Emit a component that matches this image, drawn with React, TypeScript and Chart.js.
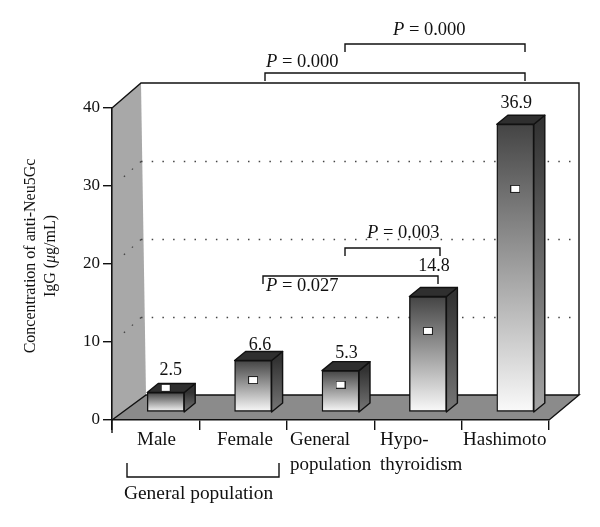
import React, { useEffect, useRef } from "react";
import { Chart, registerables } from "chart.js";

Chart.register(...registerables);

const categories = ["Male", "Female", "General population", "Hypothyroidism", "Hashimoto"];
const means = [2.5, 6.6, 5.3, 14.8, 36.9];
const markers = [3.1, 4.1, 3.5, 10.4, 28.6];
const yTicks = [0, 10, 20, 30, 40];
const valueLabels = ["2.5", "6.6", "5.3", "14.8", "36.9"];

const SERIF = '"Liberation Serif", serif';
const FRONT_DX = 10;
const FRONT_DY = -8;
const BAR_DEPTH_X = 11;
const BAR_DEPTH_Y = -9;
const WALL_DX = 29;
const WALL_DY = -25;

type Run = { t: string; i?: boolean };

function runs(ctx: CanvasRenderingContext2D, x: number, y: number, parts: Run[], size: number, center = false) {
  ctx.textBaseline = "middle";
  ctx.textAlign = "left";
  ctx.fillStyle = "#111";
  const fontOf = (p: Run) => `${p.i ? "italic " : ""}${size}px ${SERIF}`;
  let total = 0;
  for (const p of parts) {
    ctx.font = fontOf(p);
    total += ctx.measureText(p.t).width;
  }
  let cx = center ? x - total / 2 : x;
  for (const p of parts) {
    ctx.font = fontOf(p);
    ctx.fillText(p.t, cx, y);
    cx += ctx.measureText(p.t).width;
  }
}

function bracket(ctx: CanvasRenderingContext2D, x1: number, x2: number, yTop: number, yLow: number, lw = 1.4) {
  ctx.save();
  ctx.strokeStyle = "#111";
  ctx.lineWidth = lw;
  ctx.beginPath();
  ctx.moveTo(x1, yLow);
  ctx.lineTo(x1, yTop);
  ctx.lineTo(x2, yTop);
  ctx.lineTo(x2, yLow);
  ctx.stroke();
  ctx.restore();
}

const stage3d = {
  id: "stage3d",
  beforeDraw(chart: any) {
    const { ctx, scales } = chart;
    const xs = scales.x;
    const ys = scales.y;
    const L = xs.left;
    const R = xs.right;
    const Y0 = ys.getPixelForValue(0);
    const YT = ys.getPixelForValue(40);
    ctx.save();
    ctx.fillStyle = "#fff";
    ctx.fillRect(0, 0, chart.width, chart.height);
    // left wall
    ctx.fillStyle = "#a8a8a8";
    ctx.beginPath();
    ctx.moveTo(L, YT);
    ctx.lineTo(L + WALL_DX, YT + WALL_DY);
    ctx.lineTo(L + WALL_DX + 5, Y0 + WALL_DY);
    ctx.lineTo(L, Y0);
    ctx.closePath();
    ctx.fill();
    // floor
    ctx.fillStyle = "#8b8b8b";
    ctx.beginPath();
    ctx.moveTo(L, Y0);
    ctx.lineTo(L + WALL_DX + 5, Y0 + WALL_DY);
    ctx.lineTo(R + 30, Y0 + WALL_DY);
    ctx.lineTo(R, Y0);
    ctx.closePath();
    ctx.fill();
    ctx.strokeStyle = "#111";
    ctx.lineWidth = 1.4;
    ctx.beginPath();
    ctx.moveTo(L, Y0);
    ctx.lineTo(L + WALL_DX + 5, Y0 + WALL_DY);
    ctx.lineTo(R + 30, Y0 + WALL_DY);
    ctx.lineTo(R, Y0);
    ctx.moveTo(L, YT);
    ctx.lineTo(L + WALL_DX, YT + WALL_DY);
    ctx.lineTo(R + 30, YT + WALL_DY);
    ctx.lineTo(R + 30, Y0 + WALL_DY);
    ctx.stroke();
    // dotted gridlines
    ctx.strokeStyle = "#444";
    ctx.lineWidth = 1.3;
    ctx.setLineDash([1.5, 9.2]);
    for (const v of yTicks.slice(1, 4)) {
      const y = ys.getPixelForValue(v);
      ctx.beginPath();
      ctx.moveTo(L + WALL_DX, y + WALL_DY + 0.5);
      ctx.lineTo(R + 22, y + WALL_DY + 0.5);
      ctx.stroke();
      ctx.beginPath();
      ctx.moveTo(L + WALL_DX, y + WALL_DY + 0.5);
      ctx.lineTo(L + 6, y + WALL_DY + 21);
      ctx.stroke();
    }
    ctx.restore();
  },
  beforeDatasetDraw(chart: any, args: any) {
    const { ctx, scales } = chart;
    ctx.save();
    ctx.translate(FRONT_DX, FRONT_DY);
    if (args.meta.type === "bar") {
      const base = scales.y.getPixelForValue(0);
      args.meta.data.forEach((bar: any) => {
        const x2 = bar.x + bar.width / 2;
        const x1 = bar.x - bar.width / 2;
        const top = bar.y;
        const dx = BAR_DEPTH_X;
        const dy = BAR_DEPTH_Y;
        const g = ctx.createLinearGradient(0, top, 0, base);
        g.addColorStop(0, "#333");
        g.addColorStop(1, base - top > 200 ? "#a4a4a4" : "#777");
        ctx.fillStyle = g;
        ctx.strokeStyle = "#111";
        ctx.lineWidth = 1.4;
        ctx.lineJoin = "round";
        ctx.beginPath();
        ctx.moveTo(x2, top);
        ctx.lineTo(x2 + dx, top + dy);
        ctx.lineTo(x2 + dx, base + dy);
        ctx.lineTo(x2, base);
        ctx.closePath();
        ctx.fill();
        ctx.stroke();
        ctx.fillStyle = "#2f2f2f";
        ctx.beginPath();
        ctx.moveTo(x1, top);
        ctx.lineTo(x1 + dx, top + dy);
        ctx.lineTo(x2 + dx, top + dy);
        ctx.lineTo(x2, top);
        ctx.closePath();
        ctx.fill();
        ctx.stroke();
      });
    }
  },
  afterDatasetDraw(chart: any) {
    chart.ctx.restore();
  },
  afterDraw(chart: any) {
    const { ctx, scales } = chart;
    const xs = scales.x;
    const ys = scales.y;
    const meta = chart.getDatasetMeta(1);
    ctx.save();
    // extended first tick
    ctx.strokeStyle = "#111";
    ctx.lineWidth = 1.4;
    ctx.beginPath();
    ctx.moveTo(xs.left, ys.bottom);
    ctx.lineTo(xs.left, ys.bottom + 13);
    ctx.stroke();

    // value labels above the bars
    const lift = [22, 15, 17, 30, 21];
    const shift = [5, 7, 6, 6, 1];
    valueLabels.forEach((t, i) => {
      const b = meta.data[i];
      runs(ctx, b.x + FRONT_DX + shift[i], b.y + FRONT_DY - lift[i], [{ t }], 18, true);
    });

    // category labels, placed by hand as in the figure
    const xLabels: [string, number, number][] = [
      ["Male", 137, 440],
      ["Female", 217, 440],
      ["General", 290, 440],
      ["population", 290, 465],
      ["Hypo-", 380, 440],
      ["thyroidism", 380, 465],
      ["Hashimoto", 463, 440],
    ];
    xLabels.forEach(([t, x, y]) => runs(ctx, x, y, [{ t }], 19));

    // bottom group
    bracket(ctx, 127, 279, 477, 463);
    runs(ctx, 124, 494, [{ t: "General population" }], 19.4);

    // significance brackets
    bracket(ctx, 345, 525, 44, 52);
    runs(ctx, 393, 30, [{ t: "P", i: true }, { t: " = 0.000" }], 18.5);
    bracket(ctx, 265, 525, 73, 81);
    runs(ctx, 266, 62, [{ t: "P", i: true }, { t: " = 0.000" }], 18.5);
    bracket(ctx, 345, 440, 248, 256);
    runs(ctx, 367, 233, [{ t: "P", i: true }, { t: " = 0.003" }], 18.5);
    bracket(ctx, 263, 438, 276, 284);
    runs(ctx, 266, 286, [{ t: "P", i: true }, { t: " = 0.027" }], 18.5);

    // axis title
    ctx.translate(31, 256);
    ctx.rotate(-Math.PI / 2);
    runs(ctx, 0, 0, [{ t: "Concentration of anti-Neu5Gc" }], 16, true);
    runs(ctx, 0, 20, [{ t: "IgG (" }, { t: "\u03bc", i: true }, { t: "g/mL)" }], 16, true);
    ctx.restore();
  },
};

export default function App() {
  const ref = useRef<HTMLCanvasElement>(null);
  useEffect(() => {
    const marker = document.createElement("canvas");
    marker.width = 10;
    marker.height = 8;
    const m = marker.getContext("2d")!;
    m.fillStyle = "#fff";
    m.fillRect(0, 0, 10, 8);
    m.strokeStyle = "#222";
    m.lineWidth = 1;
    m.strokeRect(0.5, 0.5, 9, 7);

    const chart = new Chart(ref.current!, {
      type: "bar",
      data: {
        labels: categories,
        datasets: [
          {
            type: "line",
            data: markers,
            showLine: false,
            pointStyle: marker as any,
            pointRadius: 5,
            order: 0,
            clip: false,
          } as any,
          {
            type: "bar",
            data: means,
            barThickness: 37,
            borderColor: "#111",
            borderWidth: 1.4,
            borderSkipped: false,
            order: 1,
            clip: false,
            backgroundColor: (c: any) => {
              const ys = c.chart.scales.y;
              const v = means[c.dataIndex];
              if (!ys || v === undefined) return "#888";
              const a = ys.getPixelForValue(v);
              const b = ys.getPixelForValue(0);
              if (!Number.isFinite(a) || !Number.isFinite(b)) return "#888";
              const g = c.chart.ctx.createLinearGradient(0, a, 0, b);
              g.addColorStop(0, "#444");
              g.addColorStop(1, "#fafafa");
              return g;
            },
          } as any,
        ],
      },
      plugins: [stage3d as any],
      options: {
        responsive: false,
        animation: false,
        events: [],
        layout: { padding: { left: 72, top: 108, right: 51, bottom: 77 } },
        plugins: { legend: { display: false }, tooltip: { enabled: false }, title: { display: false } },
        scales: {
          x: {
            type: "category",
            offset: true,
            ticks: { display: false },
            grid: { drawOnChartArea: false, drawTicks: true, tickLength: 10, color: "#111", lineWidth: 1.4, offset: true },
            border: { display: true, color: "#111", width: 1.6 },
            afterFit: (s: any) => { s.height = 30; },
          },
          y: {
            min: 0,
            max: 40,
            afterBuildTicks: (s: any) => { s.ticks = yTicks.map((value) => ({ value })); },
            ticks: { color: "#111", font: { family: SERIF, size: 17 }, padding: 3 },
            grid: { drawOnChartArea: false, drawTicks: true, tickLength: 9, color: "#111", lineWidth: 1.4 },
            border: { display: true, color: "#111", width: 1.6 },
            afterFit: (s: any) => { s.width = 40; },
          },
        },
      } as any,
    });
    return () => chart.destroy();
  }, []);
  return <canvas ref={ref} width={600} height={527} style={{ position: "absolute", left: 0, top: 0, display: "block" }} />;
}
